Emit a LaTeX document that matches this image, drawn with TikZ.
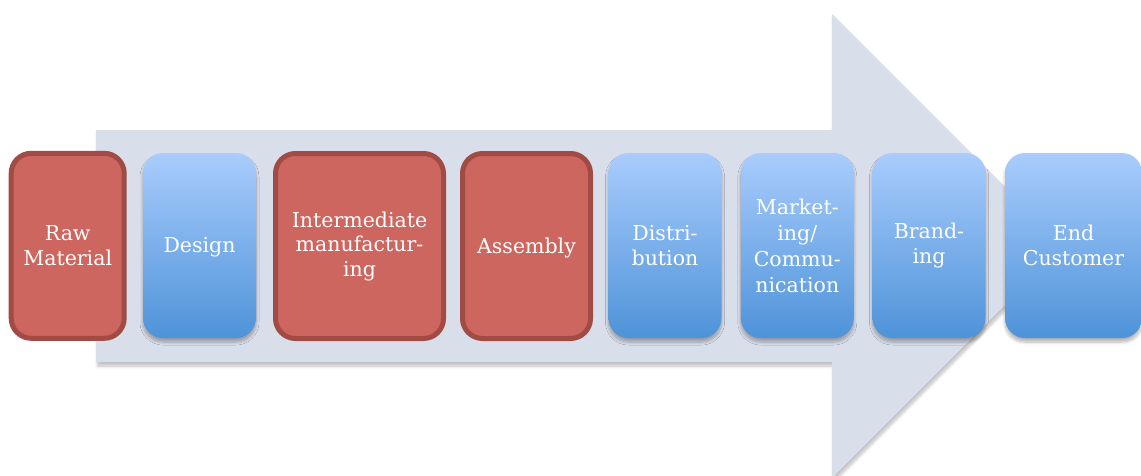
\documentclass[tikz,border=0pt]{standalone}
\usepackage{fontspec}
\setmainfont{DejaVu Serif}
\usetikzlibrary{shadows.blur}

\definecolor{arrowfill}{HTML}{D9DEEB}
\definecolor{redfill}{HTML}{CD665F}
\definecolor{redline}{HTML}{A04C45}
\definecolor{bluetop}{HTML}{A9CCFD}
\definecolor{bluebot}{HTML}{4E93D8}

\tikzset{
  stage/.style={rounded corners=20pt, align=center, text=white, inner sep=0pt,
    minimum height=185pt, font=\fontsize{20.5}{24.5}\selectfont},
  redstage/.style={stage, fill=redfill, draw=redline, line width=5pt},
  bluestage/.style={stage, top color=bluetop, bottom color=bluebot,
    blur shadow={shadow xshift=0pt, shadow yshift=-4pt, shadow blur steps=10,
      shadow blur radius=3pt, shadow blur extra rounding=2pt, shadow opacity=30}},
  bigarrow/.style={fill=arrowfill,
    blur shadow={shadow xshift=1.5pt, shadow yshift=-4pt, shadow blur steps=8,
      shadow blur radius=3pt, shadow opacity=25}}
}

\begin{document}
\begin{tikzpicture}[x=1pt,y=-1pt]
  \useasboundingbox (0,0) rectangle (1141,475);

  % the process arrow behind the stages
  \begin{scope}
    \clip (0,0) rectangle (1141,475);
    \path[bigarrow] (96,130) -- (832,130) -- (832,14) -- (1064,246)
      -- (832,478) -- (832,362) -- (96,362) -- cycle;
  \end{scope}

  % stages of the value chain
  \node[redstage, minimum width=113pt] (raw) at (67.7,245.8) {Raw\\Material};
  \node[bluestage, minimum width=113pt, text depth=1pt] (design) at (199.5,245.5) {Design};
  \node[redstage, minimum width=168pt] (inter) at (359.5,246) {Intermediate\\manufactur-\\ing};
  \node[redstage, minimum width=128pt, text depth=1pt] (assembly) at (526.5,246) {Assembly};
  \node[bluestage, minimum width=113pt] (distrib) at (665,245.5) {Distri-\\bution};
  \node[bluestage, minimum width=113pt, font=\fontsize{20.5}{26}\selectfont] (market) at (797.3,245.5) {Market-\\ing/\\Commu-\\nication};
  \node[bluestage, minimum width=113pt] (brand) at (929,245.5) {Brand-\\ing};
  \node[bluestage, minimum width=137pt] (endc) at (1073.5,245.5) {End\\Customer};
\end{tikzpicture}
\end{document}
